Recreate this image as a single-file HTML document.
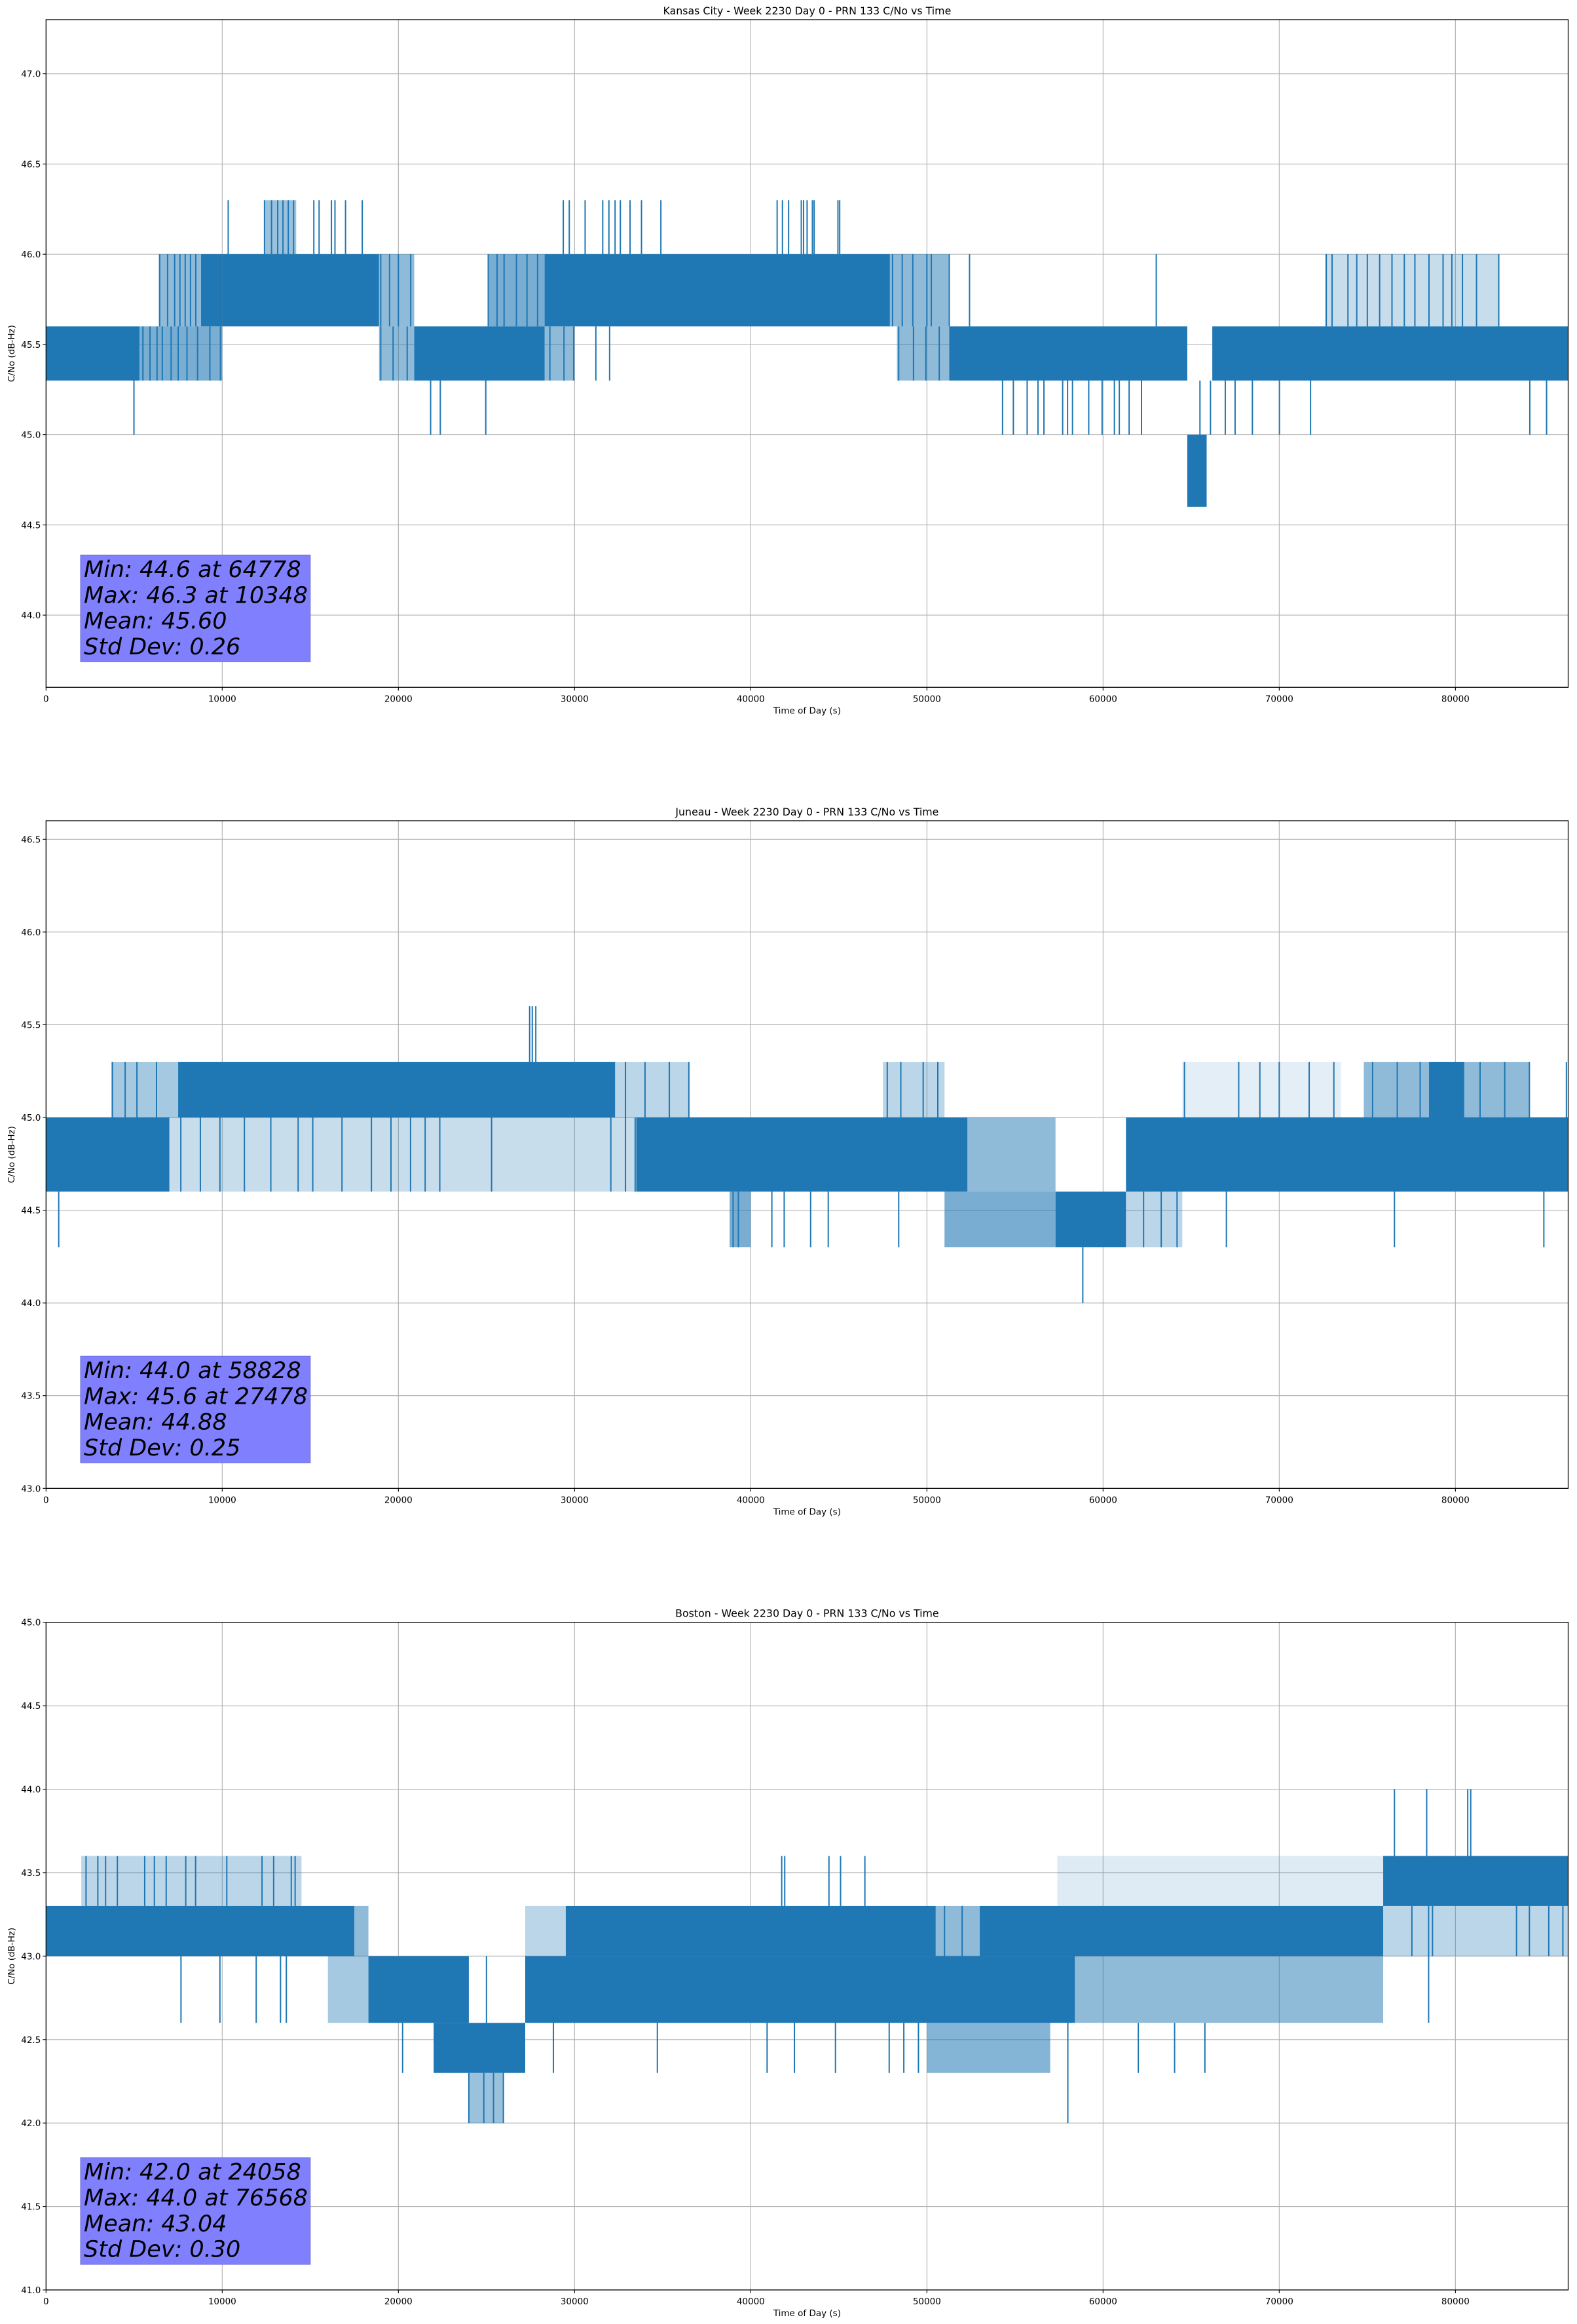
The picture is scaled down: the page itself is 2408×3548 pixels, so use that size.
<!DOCTYPE html>
<html><head><meta charset="utf-8"><style>
html,body{margin:0;padding:0;background:#fff;}
svg{display:block;font-family:"DejaVu Sans","Liberation Sans",sans-serif;}
</style></head><body>
<svg id="fig" width="2408" height="3548" viewBox="0 0 2408 3548" xmlns="http://www.w3.org/2000/svg"></svg>
<script>
// ---------- shared axis data ----------
const xTicks = [0,10000,20000,30000,40000,50000,60000,70000,80000];
const xMax = 86400;

// ---------- Kansas City ----------
const kcTitle = "Kansas City - Week 2230 Day 0 - PRN 133 C/No vs Time";
const kcYRange = [43.6, 47.3];
const kcYTicks = [44.0,44.5,45.0,45.5,46.0,46.5,47.0];
const kcBandStart = [0, 8800, 10000, 20900, 28300, 51270, 64780, 66200];
const kcBandEnd   = [5300, 10000, 18900, 28300, 47900, 64780, 65880, 86400];
const kcBandLo    = [45.3, 45.6, 45.6, 45.3, 45.6, 45.3, 44.6, 45.3];
const kcBandHi    = [45.6, 46.0, 46.0, 45.6, 46.0, 45.6, 45.0, 45.6];
const kcMixStart = [5300, 6400, 18900, 18900, 25100, 28300, 47900, 48300, 72600, 12400];
const kcMixEnd   = [10000, 8800, 20900, 20900, 28300, 30000, 51270, 51270, 82500, 14200];
const kcMixLo    = [45.3, 45.6, 45.6, 45.3, 45.6, 45.3, 45.6, 45.3, 45.6, 46.0];
const kcMixHi    = [45.6, 46.0, 46.0, 45.6, 46.0, 45.6, 46.0, 45.6, 46.0, 46.3];
const kcMixDensity = [0.6, 0.5, 0.5, 0.5, 0.6, 0.5, 0.5, 0.5, 0.25, 0.45];
const kcSpikeLo = [46.0, 45.6, 45.3, 45.0, 45.0];
const kcSpikeHi = [46.3, 46.0, 45.6, 45.3, 45.3];
const kcSpikeTimes = [
  [10340,12400,12800,13150,13450,13750,14050,15200,15500,16200,16400,17000,17950,29360,29700,30600,31600,31950,32300,32600,33150,33800,34900,41500,41800,42150,42870,43000,43200,43500,43600,44950,45050],
  [6450,6900,7300,7600,7900,8200,8500,19000,19500,20000,20700,25100,25600,26000,26700,27300,27900,48050,48600,49200,50000,50250,51270,52420,63020,72670,73000,73900,74400,75000,75700,76400,77100,77700,78500,79300,79800,80400,81200,82460],
  [5500,5900,6300,6600,7100,7500,8000,8600,9300,9900,19000,19700,20500,28600,29400,29950,31210,31990,48400,49240,49940,50700],
  [4990,21830,22380,24960,54294,54907,55692,56306,56643,57706,57986,58265,59187,59944,60643,60922,61480,62182,66097,66937,67495,68476,70012,71777,84223,85175],
  [65500]
];
const kcStats = ["Min: 44.6 at 64778","Max: 46.3 at 10348","Mean: 45.60","Std Dev: 0.26"];

// ---------- Juneau ----------
const juTitle = "Juneau - Week 2230 Day 0 - PRN 133 C/No vs Time";
const juYRange = [43.0, 46.6];
const juYTicks = [43.0,43.5,44.0,44.5,45.0,45.5,46.0,46.5];
const juBandStart = [0, 7500, 33500, 57300, 61300, 78500];
const juBandEnd   = [7000, 32300, 52300, 61300, 86400, 80500];
const juBandLo    = [44.6, 45.0, 44.6, 44.3, 44.6, 45.0];
const juBandHi    = [45.0, 45.3, 45.0, 44.6, 45.0, 45.3];
const juMixStart = [3700, 7000, 32300, 38800, 47500, 51000, 52300, 61300, 74800, 64500];
const juMixEnd   = [7500, 33500, 36500, 40000, 51000, 57300, 57300, 64500, 84200, 73500];
const juMixLo    = [45.0, 44.6, 45.0, 44.3, 45.0, 44.3, 44.6, 44.3, 45.0, 45.0];
const juMixHi    = [45.3, 45.0, 45.3, 44.6, 45.3, 44.6, 45.0, 44.6, 45.3, 45.3];
const juMixDensity = [0.4, 0.25, 0.3, 0.6, 0.3, 0.6, 0.5, 0.3, 0.5, 0.12];
const juSpikeLo = [44.6, 45.0, 45.3, 44.3, 44.0];
const juSpikeHi = [45.0, 45.3, 45.6, 44.6, 44.3];
const juSpikeTimes = [
  [7650,8760,9870,11260,12760,14310,15140,16800,18470,19580,20690,21520,22350,25290,32060,32890,33440],
  [3770,4490,5160,6270,32890,34000,35380,36490,47750,48520,49790,50620,64620,67700,68900,70000,71700,73100,75300,76700,78000,81400,82800,84200,86300],
  [27450,27600,27800],
  [720,39000,39300,41200,41900,43400,44400,48400,62300,63300,64200,67000,76540,85020],
  [58850]
];
const juStats = ["Min: 44.0 at 58828","Max: 45.6 at 27478","Mean: 44.88","Std Dev: 0.25"];

// ---------- Boston ----------
const boTitle = "Boston - Week 2230 Day 0 - PRN 133 C/No vs Time";
const boYRange = [41.0, 45.0];
const boYTicks = [41.0,41.5,42.0,42.5,43.0,43.5,44.0,44.5,45.0];
const boBandStart = [0, 18300, 22000, 27200, 29500, 53000, 75900];
const boBandEnd   = [17500, 24000, 27200, 58400, 50500, 75900, 86400];
const boBandLo    = [43.0, 42.6, 42.3, 42.6, 43.0, 43.0, 43.3];
const boBandHi    = [43.3, 43.0, 42.6, 43.0, 43.3, 43.3, 43.6];
const boMixStart = [2000, 17500, 16000, 50500, 58400, 50000, 57400, 75900, 24000, 27200];
const boMixEnd   = [14500, 18300, 18300, 53000, 75900, 57000, 75900, 86400, 26000, 29500];
const boMixLo    = [43.3, 43.0, 42.6, 43.0, 42.6, 42.3, 43.3, 43.0, 42.0, 43.0];
const boMixHi    = [43.6, 43.3, 43.0, 43.3, 43.0, 42.6, 43.6, 43.3, 42.3, 43.3];
const boMixDensity = [0.3, 0.5, 0.4, 0.5, 0.5, 0.55, 0.15, 0.3, 0.45, 0.3];
const boSpikeLo = [43.3, 43.6, 42.6, 42.3, 42.0, 43.0, 42.0, 42.6];
const boSpikeHi = [43.6, 44.0, 43.0, 42.6, 42.3, 43.3, 42.6, 43.3];
const boSpikeTimes = [
  [2270,2940,3380,4050,5600,6150,6820,7930,8490,10260,12260,12920,13920,14140,41760,41930,44440,45100,46480],
  [76540,78370,80700,80870],
  [7660,9870,11930,13310,13640,25000],
  [20240,28800,34700,40930,42480,44810,47860,48690,49520,62000,64060,65780],
  [24000,24850,25400,25960],
  [51000,52000,77530,78700,83470,84200,85300,86100],
  [58000],
  [78480]
];
const boStats = ["Min: 42.0 at 24058","Max: 44.0 at 76568","Mean: 43.04","Std Dev: 0.30"];

// ---------- rendering ----------
const NS = "http://www.w3.org/2000/svg";
const svg = document.getElementById('fig');
const AX_L = 70.3, AX_W = 2324.2, AX_H = 1019.3;
const BLUE = "#1f77b4";

function mk(tag, attrs, parent, text){
  const e = document.createElementNS(NS, tag);
  for (const k in attrs) e.setAttribute(k, attrs[k]);
  if (text !== undefined) e.textContent = text;
  parent.appendChild(e);
  return e;
}

function drawPanel(id, top, title, yRange, yTicks, bS, bE, bLo, bHi, mS, mE, mLo, mHi, mD, sLo, sHi, sT, stats){
  const g = mk('g', {}, svg);
  
  
  const bottom = top + AX_H;
  const xs = t => AX_L + t / xMax * AX_W;
  const ys = v => bottom - (v - yRange[0]) / (yRange[1] - yRange[0]) * AX_H;

  const grid = mk('g', {stroke:'#b0b0b0','stroke-width':1.1}, g);
  
  
  xTicks.forEach(t => { if (t>0) mk('line',{x1:xs(t),x2:xs(t),y1:top,y2:bottom},grid); });
  yTicks.forEach(v => mk('line',{x1:AX_L,x2:AX_L+AX_W,y1:ys(v),y2:ys(v)},grid));

  const cp = mk('clipPath', {id:'clip-'+id}, g);
  mk('rect', {x:AX_L, y:top, width:AX_W, height:AX_H}, cp);
  const series = mk('g', {'clip-path':'url(#clip-'+id+')'}, g);
  
  
  for (let i=0;i<mS.length;i++){
    const r = mk('rect', {x:xs(mS[i]), y:ys(mHi[i]), width:xs(mE[i])-xs(mS[i]), height:ys(mLo[i])-ys(mHi[i]), fill:BLUE, 'fill-opacity':mD[i]}, series);
    
    
  }
  for (let i=0;i<bS.length;i++){
    const r = mk('rect', {x:xs(bS[i]), y:ys(bHi[i]), width:xs(bE[i])-xs(bS[i]), height:ys(bLo[i])-ys(bHi[i]), fill:BLUE}, series);
    
    
  }
  for (let gI=0; gI<sT.length; gI++){
    sT[gI].forEach(t => {
      const l = mk('line', {x1:xs(t), x2:xs(t), y1:ys(sLo[gI]), y2:ys(sHi[gI]), stroke:BLUE, 'stroke-width':2}, series);
      
      
    });
  }

  const sb = mk('g', {}, g);
  
  
  mk('rect', {x:123, y:bottom-202, width:350.8, height:163, fill:'#8080ff', stroke:'#6a6ad0', 'stroke-width':1}, sb);
  const offs = [168.3, 129, 89.7, 50.3];
  stats.forEach((s,i) => {
    const t = mk('text', {x:128, y:bottom-offs[i], 'font-size':35, 'font-style':'italic', fill:'#000'}, sb, s);
    
    
  });

  const sp = mk('rect', {x:AX_L, y:top, width:AX_W, height:AX_H, fill:'none', stroke:'#000', 'stroke-width':1.3}, g);
  
  

  const xt = mk('g', {}, g);
  
  
  xTicks.forEach(t => {
    mk('line', {x1:xs(t),x2:xs(t),y1:bottom,y2:bottom+5,stroke:'#000','stroke-width':1.1}, xt);
    const tl = mk('text', {x:xs(t), y:bottom+22, 'font-size':13.5, 'text-anchor':'middle', fill:'#000'}, xt, String(t));
    
    
  });
  const yt = mk('g', {}, g);
  
  
  yTicks.forEach(v => {
    mk('line', {x1:AX_L-5,x2:AX_L,y1:ys(v),y2:ys(v),stroke:'#000','stroke-width':1.1}, yt);
    const tl = mk('text', {x:AX_L-8, y:ys(v)+5, 'font-size':13.5, 'text-anchor':'end', fill:'#000'}, yt, v.toFixed(1));
    
    
  });

  const tt = mk('text', {x:AX_L+AX_W/2, y:top-8, 'font-size':15.8, 'text-anchor':'middle', fill:'#000'}, g, title);
  
  
  const xl = mk('text', {x:AX_L+AX_W/2, y:bottom+40, 'font-size':13.5, 'text-anchor':'middle', fill:'#000'}, g, 'Time of Day (s)');
  
  
  const cy = top + AX_H/2;
  const yl = mk('text', {x:22, y:cy, 'font-size':13.5, 'text-anchor':'middle', fill:'#000', transform:'rotate(-90 22 '+cy+')'}, g, 'C/No (dB-Hz)');
  
  
}

drawPanel('kansas-city', 30, kcTitle, kcYRange, kcYTicks, kcBandStart, kcBandEnd, kcBandLo, kcBandHi, kcMixStart, kcMixEnd, kcMixLo, kcMixHi, kcMixDensity, kcSpikeLo, kcSpikeHi, kcSpikeTimes, kcStats);
drawPanel('juneau', 1253, juTitle, juYRange, juYTicks, juBandStart, juBandEnd, juBandLo, juBandHi, juMixStart, juMixEnd, juMixLo, juMixHi, juMixDensity, juSpikeLo, juSpikeHi, juSpikeTimes, juStats);
drawPanel('boston', 2476.7, boTitle, boYRange, boYTicks, boBandStart, boBandEnd, boBandLo, boBandHi, boMixStart, boMixEnd, boMixLo, boMixHi, boMixDensity, boSpikeLo, boSpikeHi, boSpikeTimes, boStats);
</script>
</body></html>
